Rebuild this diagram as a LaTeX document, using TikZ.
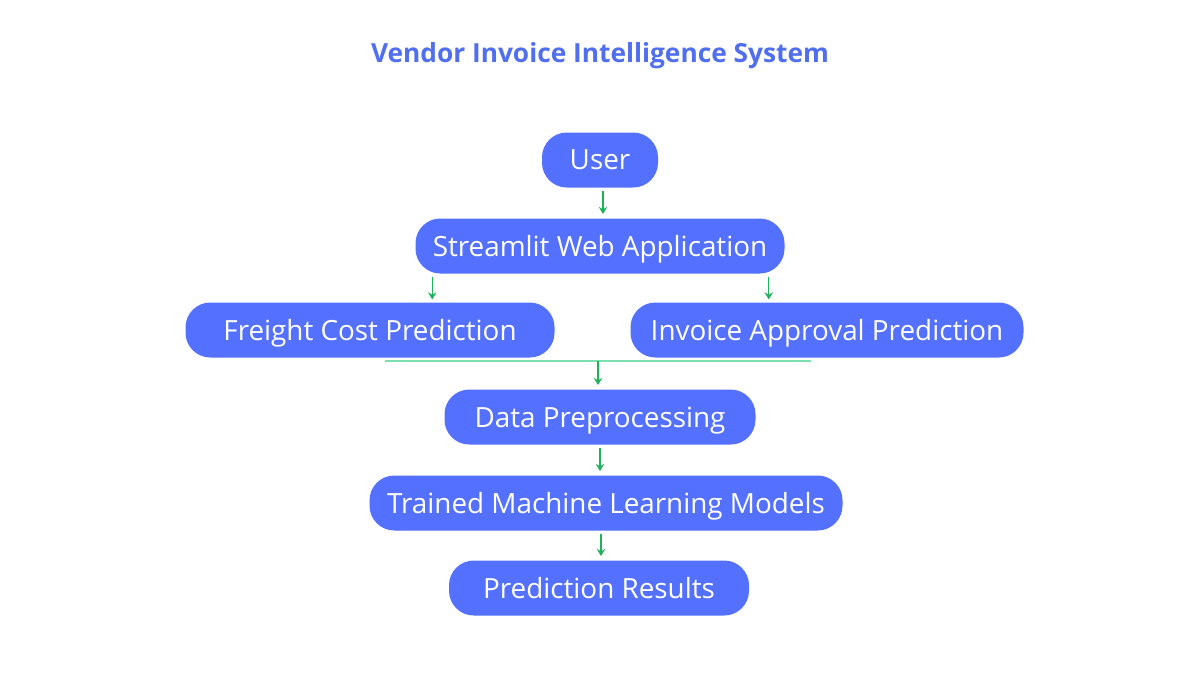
\documentclass[tikz,border=0pt]{standalone}
\usepackage{fontspec}
\setmainfont{Open Sans}
\usepackage{tikz}
\usetikzlibrary{arrows.meta, calc}

\definecolor{boxblue}{RGB}{84,112,255}
\definecolor{titleblue}{RGB}{80,110,240}
\definecolor{arrgreen}{RGB}{30,178,90}
\definecolor{linegreen}{RGB}{125,222,175}

\begin{document}
\begin{tikzpicture}[
    box/.style={fill=boxblue, rounded corners=0.62cm, minimum height=1.375cm,
                text=white, font=\fontsize{19.8}{22}\selectfont, inner sep=0pt,
                text depth=0pt},
    arr/.style={-{Stealth[length=5pt, width=6pt]}, arrgreen, line width=1pt}
  ]
  \useasboundingbox (0,0) rectangle (30,-16.875);

  % Title
  \node[text=titleblue, font=\fontsize{18.7}{22}\selectfont\bfseries] (title) at (15,-1.4) {Vendor Invoice Intelligence System};

  % Boxes
  \node[box, minimum width=2.9cm] (user) at (15,-4.0) {User};
  \node[box, minimum width=9.225cm] (app) at (15,-6.15) {Streamlit Web Application};
  \node[box, minimum width=9.225cm] (freight) at (9.25,-8.25) {Freight Cost Prediction};
  \node[box, minimum width=9.825cm] (approval) at (20.675,-8.25) {Invoice Approval Prediction};
  \node[box, minimum width=7.775cm] (prep) at (15,-10.425) {Data Preprocessing};
  \node[box, minimum width=11.825cm] (models) at (15.15,-12.575) {Trained Machine Learning Models};
  \node[box, minimum width=7.5cm] (results) at (14.975,-14.7) {Prediction Results};

  % Joining line below the two prediction boxes
  \coordinate (jl) at (9.625,-9.025);
  \coordinate (jr) at (20.275,-9.025);
  \draw[linegreen, line width=1pt] (jl) -- (jr);

  % Arrows
  \draw[arr] ([xshift=0.075cm,yshift=-2pt]user.south) -- ([xshift=0.075cm,yshift=3pt]user.south |- app.north);
  \draw[arr] ([xshift=0.425cm,yshift=-2pt]app.south west) -- ([xshift=0.425cm,yshift=2pt]app.south west |- freight.north);
  \draw[arr] ([xshift=-0.4cm,yshift=-2pt]app.south east) -- ([xshift=-0.4cm,yshift=2pt]app.south east |- approval.north);
  \draw[arr] ([xshift=-0.05cm]prep.north |- jl) -- ([xshift=-0.05cm,yshift=3pt]prep.north);
  \draw[arr] ([yshift=-2pt]prep.south) -- ([yshift=3pt]prep.south |- models.north);
  \draw[arr] ([xshift=0.025cm,yshift=-2pt]models.south -| prep.south) -- ([xshift=0.025cm,yshift=3pt]results.north -| prep.south);
\end{tikzpicture}
\end{document}
